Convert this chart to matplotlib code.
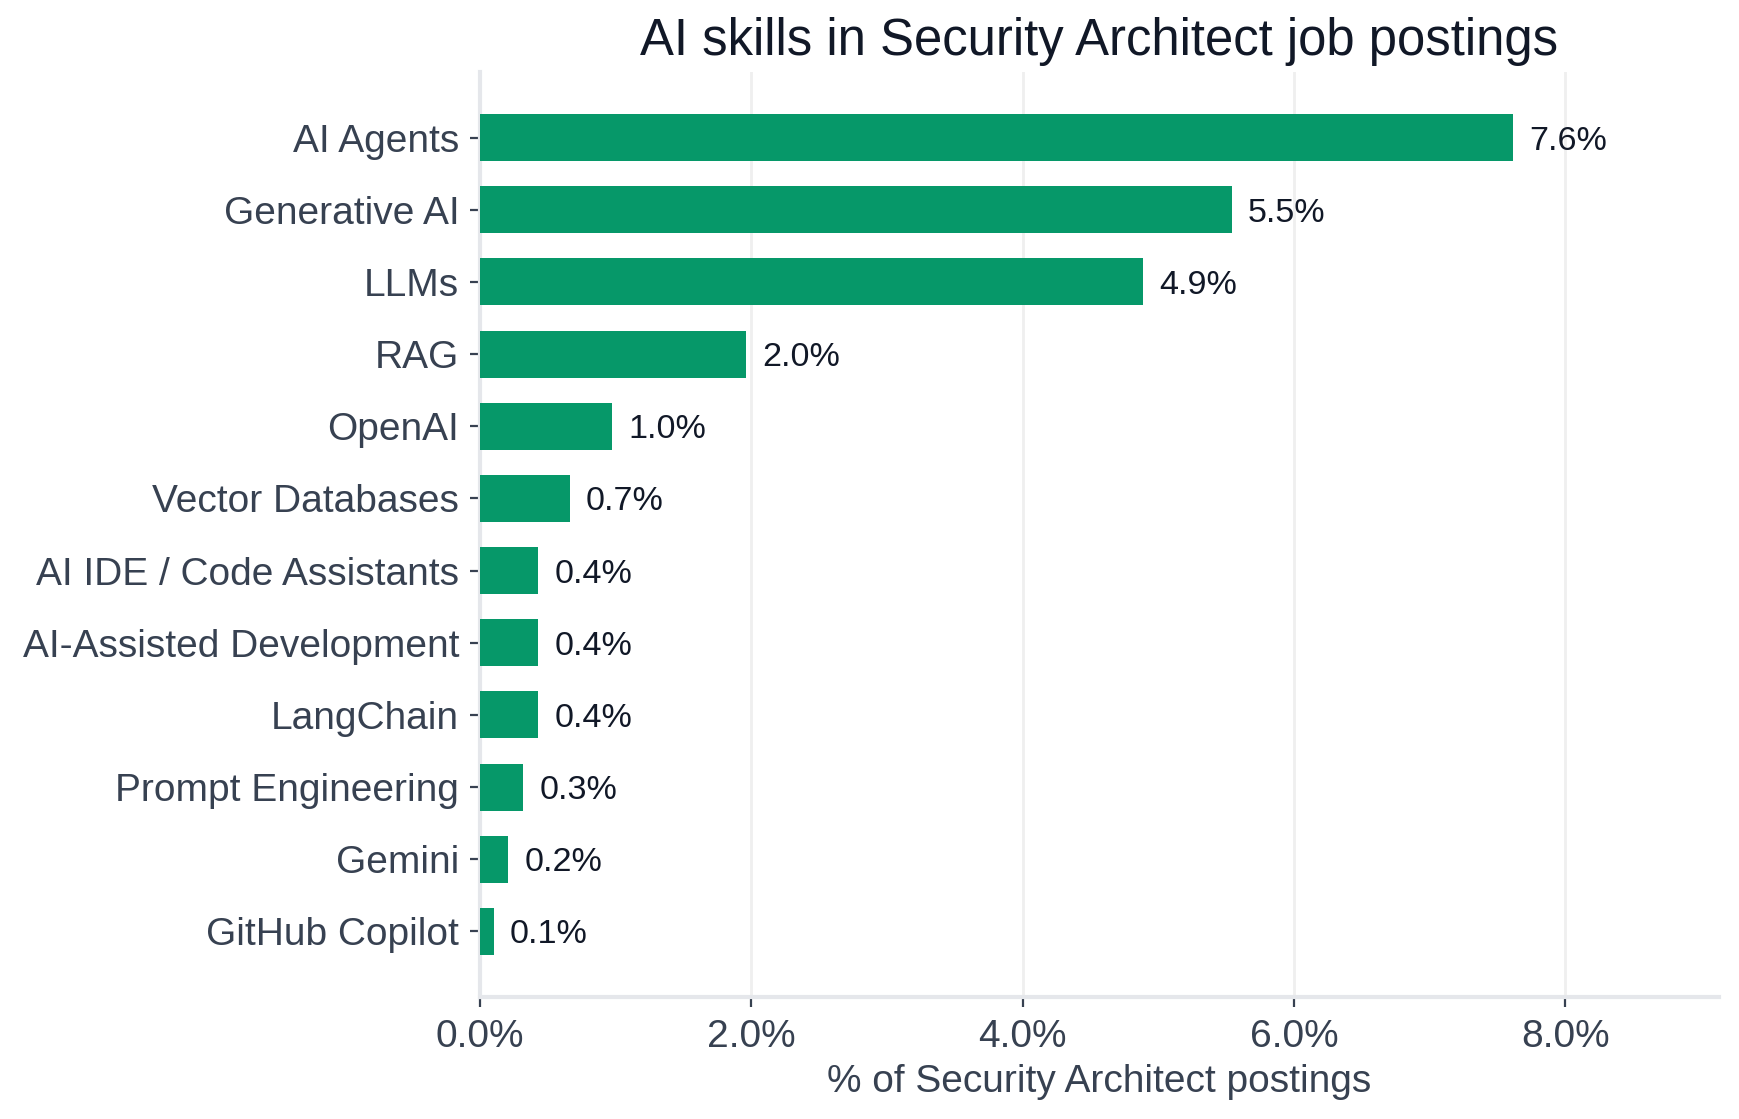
import matplotlib
matplotlib.use("Agg")
import matplotlib.pyplot as plt
from matplotlib.ticker import FuncFormatter

skills = ["AI Agents", "Generative AI", "LLMs", "RAG", "OpenAI", "Vector Databases",
          "AI IDE / Code Assistants", "AI-Assisted Development", "LangChain",
          "Prompt Engineering", "Gemini", "GitHub Copilot"]
shares = [7.61, 5.54, 4.89, 1.96, 0.97, 0.66, 0.43, 0.43, 0.43, 0.32, 0.21, 0.10]
xticks = [0, 2, 4, 6, 8]

plt.rcParams['font.family'] = ['Liberation Sans', 'DejaVu Sans']

BAR = "#069869"
TICK = "#374151"
DARK = "#111827"

fig = plt.figure(figsize=(1739/200, 1119/200), dpi=200)
ax = fig.add_axes([480/1739, 1-997/1119, (1719-480)/1739, (997-72)/1119])

ypos = list(range(len(skills)))
ax.barh(ypos, shares, height=0.65, color=BAR, zorder=3)
ax.invert_yaxis()
ax.set_yticks(ypos)
ax.set_yticklabels(skills)
ax.set_xlim(0, max(shares) * 1.2)
ax.set_xticks(xticks)
ax.xaxis.set_major_formatter(FuncFormatter(lambda v, p: f"{v:.1f}%"))

for y, v in zip(ypos, shares):
    ax.text(v + 0.12, y, f"{v:.1f}%", va="center_baseline", ha="left", fontsize=12.3, color=DARK)

ax.grid(axis="x", color="#efefef", linewidth=1.0, zorder=0)
ax.set_axisbelow(True)
for s in ["top", "right"]:
    ax.spines[s].set_visible(False)
for s in ["left", "bottom"]:
    ax.spines[s].set_color("#e5e7eb")
    ax.spines[s].set_linewidth(1.5)

ax.tick_params(axis="y", labelsize=14, labelcolor=TICK, color=TICK, length=3.5, width=0.8, pad=4)
ax.tick_params(axis="x", labelsize=14, labelcolor=TICK, color=TICK, length=3.5, width=0.8, pad=4.5)
ax.set_xlabel("% of Security Architect postings", fontsize=14, color=TICK, labelpad=3.3)
ax.set_title("AI skills in Security Architect job postings", fontsize=18.3, color=DARK, pad=6)

fig.savefig("out.png", dpi=200)
